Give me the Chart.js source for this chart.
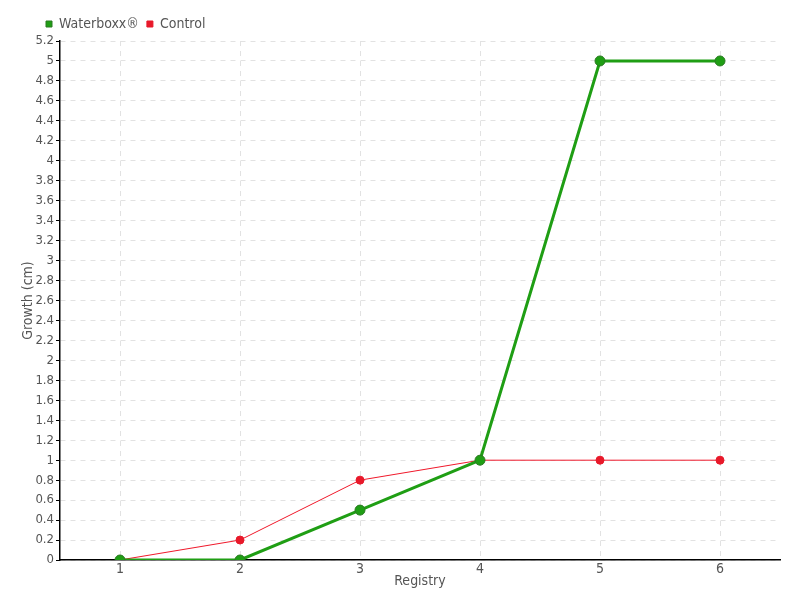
<!DOCTYPE html>
<html lang="en">
<head>
  <meta charset="UTF-8">
  <title>Growth chart</title>
  <script src="https://cdn.jsdelivr.net/npm/chart.js"></script>
  <style>
    body { margin: 0; background: #fff; }
    #wrap { width: 800px; height: 600px; }
  </style>
</head>
<body>
  <div id="wrap"><canvas id="myChart" width="800" height="600"></canvas></div>
  <script>
    // data
    const registry = ['1', '2', '3', '4', '5', '6'];
    const waterboxx = [0, 0, 0.5, 1, 5, 5];
    const control = [0, 0.2, 0.8, 1, 1, 1];

    const font = "'DejaVu Sans Condensed', 'Liberation Sans Narrow', sans-serif";
    Chart.defaults.font.family = font;
    Chart.defaults.font.size = 14;
    Chart.defaults.color = '#555';

    // nudge the legend right, as in the reference
    const shiftLegend = {
      id: 'shiftLegend',
      afterLayout(chart) {
        chart.legend.left += 18;
        chart.legend.right += 18;
      }
    };

    const ctx = document.getElementById('myChart').getContext('2d');
    new Chart(ctx, {
      type: 'line',
      data: {
        labels: registry,
        datasets: [{
          label: 'Waterboxx®',
          data: waterboxx,
          borderColor: '#1f9e14',
          backgroundColor: '#1f9e14',
          pointBackgroundColor: '#1f9e14',
          pointBorderColor: '#2a7a22',
          borderWidth: 3,
          pointRadius: 5,
          pointBorderWidth: 1,
          tension: 0,
          fill: false
        }, {
          label: 'Control',
          data: control,
          borderColor: '#f0182a',
          backgroundColor: '#f0182a',
          pointBackgroundColor: '#e8192a',
          pointBorderColor: '#e8192a',
          borderWidth: 1,
          pointRadius: 4,
          tension: 0,
          fill: false
        }]
      },
      plugins: [shiftLegend],
      options: {
        responsive: false,
        animation: false,
        layout: { padding: { left: 20, right: 20, top: 9, bottom: 0 } },
        plugins: {
          legend: {
            position: 'top',
            align: 'start',
            labels: {
              usePointStyle: true,
              pointStyle: 'rect',
              boxWidth: 6,
              boxHeight: 6,
              padding: 8,
              color: '#555',
              font: { size: 14 }
            }
          },
          tooltip: { enabled: false }
        },
        scales: {
          x: {
            offset: true,
            grid: {
              offset: false,
              color: '#e2e2e2',
              drawTicks: false
            },
            border: { color: '#000', width: 1.5, dash: [5, 5] },
            ticks: { padding: 1, color: '#555' },
            title: { display: true, text: 'Registry', color: '#555', padding: { top: 0, bottom: 10 } },
            afterFit: s => { s.height = 40; }
          },
          y: {
            min: 0,
            max: 5.2,
            grid: {
              color: '#e2e2e2',
              tickColor: '#000',
              tickBorderDash: [],
              tickLength: 4
            },
            border: { color: '#000', width: 1.5, dash: [5, 5] },
            ticks: {
              stepSize: 0.2,
              autoSkip: false,
              padding: 2,
              color: '#555',
              font: { size: 13 },
              callback: v => String(+v.toFixed(1))
            },
            title: { display: true, text: 'Growth (cm)', color: '#555', padding: 0 },
            afterFit: s => { s.width = 40; }
          }
        }
      }
    });
  </script>
</body>
</html>
